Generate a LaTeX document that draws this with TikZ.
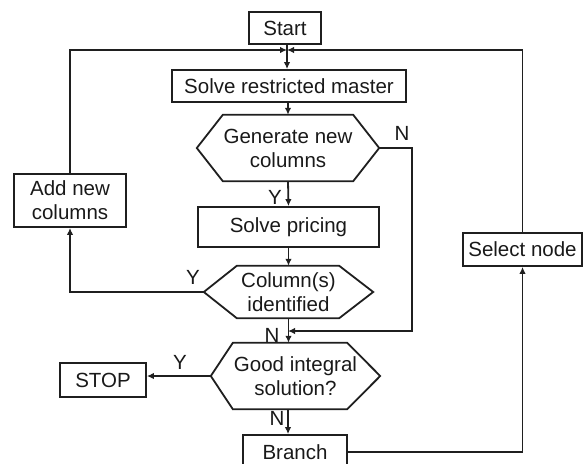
\documentclass[tikz,border=0pt]{standalone}
\usepackage{fontspec}
\setmainfont{Liberation Sans}
\usetikzlibrary{arrows.meta}
\newcommand\hexoutline[3]{%
  \draw[ln] (#1.west) -- ([xshift=#2]#1.north west) -- ([xshift=-#3]#1.north east)
   -- (#1.east) -- ([xshift=-#3]#1.south east) -- ([xshift=#2]#1.south west) -- cycle;}
\begin{document}
\begin{tikzpicture}[x=1pt,y=-1pt,
  ln/.style={line width=1.8pt, color=black!88},
  arr/.style={ln,-{Latex[length=7pt,width=6.5pt]}},
  box/.style={draw, ln, inner sep=0pt, align=center, text=black!90, font=\fontsize{20.5}{24}\selectfont},
  hexn/.style={inner sep=0pt, align=center, text=black!90, font=\fontsize{20.5}{24}\selectfont},
  lab/.style={inner sep=0pt, text=black!90, font=\fontsize{20.5}{24}\selectfont}]
\useasboundingbox (0,0) rectangle (585,463);
\node[box, minimum width=72pt, minimum height=32pt] (start) at (285,28) {Start};
\node[box, minimum width=234pt, minimum height=32pt] (master) at (289,86) {Solve restricted master};
\node[hexn, minimum width=182pt, minimum height=66pt] (gen) at (288,148) {Generate new\\columns};
\hexoutline{gen}{26pt}{26pt}
\node[box, minimum width=181pt, minimum height=40pt] (pricing) at (288.5,227) {Solve pricing};
\node[hexn, minimum width=169pt, minimum height=52pt] (colid) at (288.5,292) {Column(s)\\identified};
\hexoutline{colid}{33pt}{34pt}
\node[hexn, minimum width=169pt, minimum height=66pt] (good) at (295.5,376) {Good integral\\solution?};
\hexoutline{good}{22pt}{33pt}
\node[box, minimum width=112pt, minimum height=53pt] (addcol) at (70,200.5) {Add new\\columns};
\node[box, minimum width=86pt, minimum height=34pt] (stop) at (103,380) {STOP};
\node[box, minimum width=104pt, minimum height=34pt] (branch) at (295,452) {Branch};
\node[box, minimum width=119pt, minimum height=33pt] (select) at (522.5,249.5) {Select node};
\coordinate (J) at (287,50);
\coordinate (K) at (412,331);
\coordinate (M) at (288,331);
% connectors
\draw[arr] (start.south -| J) -- (master.north -| J);
\draw[arr] (addcol.north) |- (J);
\draw[arr] (select.north) |- (J);
\draw[arr] (master.south -| gen.north) -- (gen.north);
\draw[arr] (gen.south) -- (pricing.south |- pricing.north);
\draw[arr] (pricing.south) -- (colid.north);
\draw[arr] (colid.west) -| (addcol.south);
\draw[arr] (colid.south) -- (good.north -| colid.south);
\draw[arr] (gen.east) -| (K) -- (M);
\draw[arr] (good.west) -- (good.west -| stop.east);
\draw[arr] (good.south -| M) -- (branch.north -| M);
\draw[arr] (branch.east) -| (select.south);
% labels
\node[lab] (lgN) at (402,133) {N};
\node[lab] (lgY) at (275,197) {Y};
\node[lab] (lcY) at (193,277) {Y};
\node[lab] (lcN) at (272,335) {N};
\node[lab] (lsY) at (180,362) {Y};
\node[lab] (lbN) at (277,418) {N};
\end{tikzpicture}
\end{document}
